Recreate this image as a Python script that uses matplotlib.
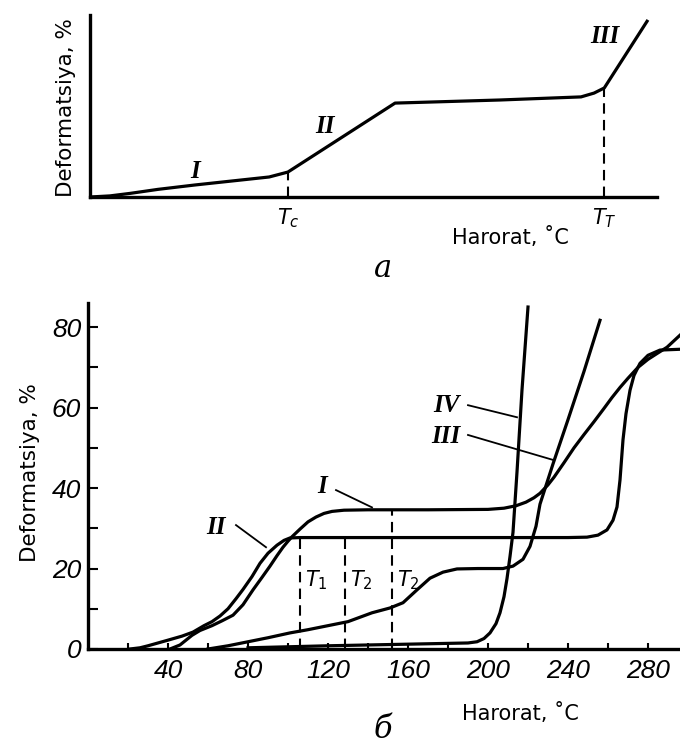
import matplotlib
matplotlib.use("Agg")
import matplotlib.pyplot as plt

W, H = 680, 749

# --- panel a: schematic thermomechanical curve (arbitrary units 0..100)
a_temp = [0, 3.5, 7.1, 12, 18.5, 31.6, 34.9, 53.8, 72.3, 86.6, 88.9, 90.7, 98.4]
a_def = [0, 0.6, 2.0, 4.2, 6.6, 11.0, 13.7, 51.6, 53.3, 55.0, 57.1, 59.9, 97.3]
a_tc, a_tc_def = 34.9, 13.7
a_tt, a_tt_def = 90.7, 59.9

# --- panel b: deformation (%) vs temperature (C)
b1_temp = [41, 46, 52, 56, 62, 67, 72.5, 77.5, 82.5, 87, 91, 94.5, 97.5, 100, 102, 106, 110, 114,
           118, 122, 128, 140, 170, 200, 208, 214, 219, 223, 226, 230, 233, 238, 243, 248, 253,
           258, 262, 266, 270, 275, 280, 285, 289.5, 296]
b1_def = [0, 1.0, 3.4, 4.6, 5.8, 7.0, 8.4, 11.0, 14.7, 17.8, 20.6, 23.2, 25.3, 26.8, 27.9, 29.8, 31.6,
          32.8, 33.7, 34.2, 34.5, 34.6, 34.6, 34.7, 35.0, 35.6, 36.5, 37.6, 38.7, 40.8, 42.7, 46.3,
          50.0, 53.3, 56.5, 59.8, 62.5, 65.0, 67.3, 70.0, 72.0, 73.6, 75.0, 78.0]

b2_temp = [21, 26, 30, 35, 40, 47, 52.5, 58, 62, 66, 70, 74, 77.5, 82, 86, 90, 94.5, 98, 101, 106,
           150, 200, 240, 249.5, 255, 259.5, 262.5, 264.5, 266, 267.5, 269, 271, 273, 276, 280,
           286, 296]
b2_def = [0, 0.3, 0.8, 1.5, 2.2, 3.2, 4.2, 5.8, 6.8, 8.2, 10.0, 12.5, 14.8, 18.0, 21.3, 23.8, 25.8,
          27.0, 27.6, 27.7, 27.7, 27.7, 27.7, 27.8, 28.3, 29.6, 32.0, 35.3, 42.0, 52.0, 58.5, 64.3,
          68.0, 71.0, 73.0, 74.3, 74.5]

b3_temp = [60, 70, 80, 90, 101, 110, 120, 130, 142, 151, 157.5, 164.5, 171, 177.5, 184.5, 195,
           207.5, 212.5, 217.5, 221, 224, 226, 232.5, 240, 248, 256]
b3_def = [0, 0.8, 1.8, 2.8, 4.0, 4.8, 5.8, 6.8, 9.0, 10.2, 11.5, 14.7, 17.6, 19.1, 19.9, 20.0,
          20.0, 20.6, 22.3, 25.5, 30.5, 36.0, 46.0, 57.0, 69.0, 81.7]

b4_temp = [80, 120, 160, 190, 194.5, 198, 201, 204, 206, 208, 209.5, 211, 212.5, 214.5, 217, 220]
b4_def = [0.3, 0.8, 1.2, 1.5, 1.8, 2.6, 4.0, 6.3, 9.0, 13.0, 17.5, 23.0, 29.0, 44.0, 64.4, 85.0]

t_marks = [106, 128.5, 152]
t_tops = [27.7, 27.7, 34.6]
t_names = ["$T_1$", "$T_2$", "$T_2$"]

y_major = [0, 20, 40, 60, 80]
y_minor = [10, 30, 50, 70]
x_major = [40, 80, 120, 160, 200, 240, 280]
x_minor = [20, 60, 100, 140, 180, 220, 260]


def fx(px):
    return px / W


def fy(py):
    return 1 - py / H


fig = plt.figure(figsize=(W / 100, H / 100), dpi=100)
fig.patch.set_facecolor("white")

lw = 2.3
label_font = "DejaVu Sans"
roman = dict(family="Liberation Serif", style="italic", weight="bold", fontsize=18)
dash = (0, (5, 3))

# ---------------- panel a ----------------
ax1 = fig.add_axes([fx(90), fy(197), fx(657 - 90), (197 - 15) / H])
ax1.plot(a_temp, a_def, color="black", lw=lw, solid_capstyle="butt")
ax1.plot([a_tc, a_tc], [0, a_tc_def], color="black", lw=1.5, ls=dash)
ax1.plot([a_tt, a_tt], [0, a_tt_def], color="black", lw=1.5, ls=dash)
ax1.set_xlim(0, 100)
ax1.set_ylim(0, 100)
for s in ["top", "right"]:
    ax1.spines[s].set_visible(False)
for s in ["left", "bottom"]:
    ax1.spines[s].set_linewidth(2.4)
ax1.set_xticks([])
ax1.set_yticks([])
ax1.text(18.5, 14, "I", **roman, ha="center", va="center")
ax1.text(41.5, 39, "II", **roman, ha="center", va="center")
ax1.text(90.8, 88, "III", **roman, ha="center", va="center")
ax1.text(a_tc, -5, "$T_c$", fontsize=15, ha="center", va="top")
ax1.text(a_tt, -5, "$T_T$", fontsize=15, ha="center", va="top")
fig.text(fx(510), fy(237), "Harorat, ˚C", fontsize=15, family=label_font, ha="center", va="center")
fig.text(fx(66), fy(108), "Deformatsiya, %", fontsize=15.5, family=label_font, rotation=90,
         ha="center", va="center")
fig.text(fx(383), fy(268), "а", fontsize=22, family="DejaVu Serif", style="italic",
         ha="center", va="center")

# ---------------- panel b ----------------
ax2 = fig.add_axes([fx(88), fy(649), fx(680 - 88), (649 - 303) / H])
for t, d in [(b1_temp, b1_def), (b2_temp, b2_def), (b3_temp, b3_def), (b4_temp, b4_def)]:
    ax2.plot(t, d, color="black", lw=lw, solid_joinstyle="round")
for t, top in zip(t_marks, t_tops):
    ax2.plot([t, t], [0, top], color="black", lw=1.5, ls=dash)
for t, name in zip(t_marks, t_names):
    ax2.text(t + 2.5, 17, name, fontsize=15, ha="left", va="center")

ax2.set_xlim(0, 296)
ax2.set_ylim(0, 86)
for s in ["top", "right"]:
    ax2.spines[s].set_visible(False)
for s in ["left", "bottom"]:
    ax2.spines[s].set_linewidth(2.4)
ax2.set_xticks(x_major)
ax2.set_xticks(x_minor, minor=True)
ax2.set_yticks(y_major)
ax2.set_yticks(y_minor, minor=True)
ax2.tick_params(axis="x", which="both", direction="in", length=4, width=1.5, pad=7)
ax2.tick_params(axis="y", which="both", direction="in", length=7, width=1.5, pad=5)
tick_kw = dict(family="Liberation Sans", style="italic", size=19)
ax2.set_xticklabels([str(v) for v in x_major], **tick_kw)
ax2.set_yticklabels([str(v) for v in y_major], **tick_kw)

# curve labels with leader lines
ax2.text(117, 40.5, "I", **roman, ha="center", va="center")
ax2.plot([124, 142], [39.5, 35.2], color="black", lw=1.3)
ax2.text(64, 30.3, "II", **roman, ha="center", va="center")
ax2.plot([74, 89], [30.8, 25.3], color="black", lw=1.3)
ax2.text(179, 60.6, "IV", **roman, ha="center", va="center")
ax2.plot([190, 214.5], [60.6, 57.6], color="black", lw=1.3)
ax2.text(179, 52.7, "III", **roman, ha="center", va="center")
ax2.plot([190, 232.5], [53.2, 47], color="black", lw=1.3)

fig.text(fx(520), fy(713), "Harorat, ˚C", fontsize=15, family=label_font, ha="center", va="center")
fig.text(fx(30), fy(473), "Deformatsiya, %", fontsize=15.5, family=label_font, rotation=90,
         ha="center", va="center")
fig.text(fx(383), fy(730), "б", fontsize=22, family="DejaVu Serif", style="italic",
         ha="center", va="center")

fig.savefig("out.png", dpi=100, facecolor="white")
